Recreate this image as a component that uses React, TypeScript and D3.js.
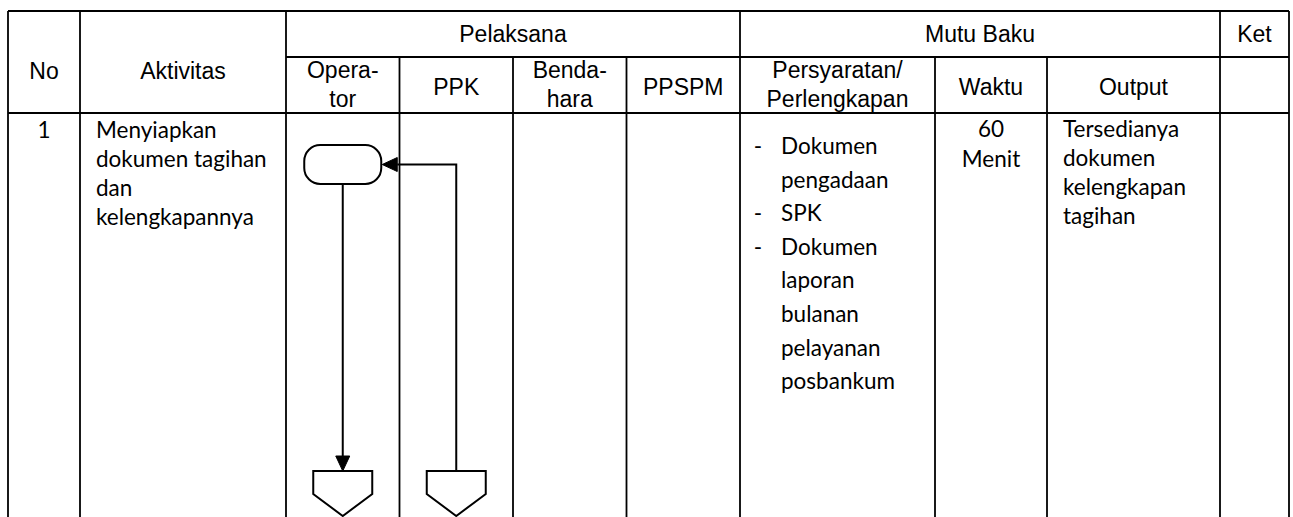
import React, { useEffect, useRef } from 'react';
import * as d3 from 'd3';

// header labels
const topHeaders = ['No', 'Aktivitas', 'Pelaksana', 'Mutu Baku', 'Ket'];
const actorKeys = ['operator', 'ppk', 'bendahara', 'ppspm'];
const actorLabels = [['Opera-', 'tor'], ['PPK'], ['Benda-', 'hara'], ['PPSPM']];
const mutuLabels = [['Persyaratan/', 'Perlengkapan'], ['Waktu'], ['Output']];

// row content
const rowNumbers = ['1'];
const activityLines = ['Menyiapkan', 'dokumen tagihan', 'dan', 'kelengkapannya'];
const requirementItems = [['Dokumen', 'pengadaan'], ['SPK'], ['Dokumen', 'laporan', 'bulanan', 'pelayanan', 'posbankum']];
const durationLines = ['60', 'Menit'];
const outputLines = ['Tersedianya', 'dokumen', 'kelengkapan', 'tagihan'];

// flow: start in operator lane, return from ppk lane, off-page connectors
const startLane = 'operator';
const returnLane = 'ppk';
const connectorLanes = ['operator', 'ppk'];

const HEAD_FONT = '"Liberation Sans", Arial, sans-serif';
const BODY_FONT = 'Lato, "Open Sans", sans-serif';

const App = () => {
  const ref = useRef<SVGSVGElement | null>(null);

  useEffect(() => {
    const svg = d3.select(ref.current);
    svg.selectAll('*').remove();

    const W = 1293;
    const H = 517;
    const top = 11;
    const midHead = 57;
    const headBottom = 113;
    const bottom = 530;

    // column edges
    const left = 8;
    const noRight = 80;
    const actRight = 286;
    const actorRight = 740;
    const reqRight = 935;
    const timeRight = 1047;
    const outRight = 1220;
    const right = 1289;

    const lane = d3.scaleBand<string>().domain(actorKeys).range([actRight, actorRight]);
    const laneMid = (k: string) => (lane(k) as number) + lane.bandwidth() / 2;

    const g = svg.append('g');
    const line = (x1: number, y1: number, x2: number, y2: number, w = 1.8) =>
      g.append('line')
        .attr('x1', x1).attr('y1', y1).attr('x2', x2).attr('y2', y2)
        .attr('stroke', '#000').attr('stroke-width', w);

    // outer borders and grid
    line(left, top, right, top);
    line(left, top, left, bottom);
    line(right, top, right, bottom);
    line(actRight, midHead, right, midHead);
    line(left, headBottom, right, headBottom);
    const fullCols = [noRight, actRight, actorRight, outRight];
    fullCols.forEach((x) => line(x, top, x, bottom));
    actorKeys.slice(1).forEach((k) => line(lane(k) as number, midHead, lane(k) as number, bottom));
    [reqRight, timeRight].forEach((x) => line(x, midHead, x, bottom));

    const text = (x: number, y: number, s: string, font: string, size: number, anchor = 'middle') =>
      g.append('text')
        .attr('x', x).attr('y', y)
        .attr('text-anchor', anchor)
        .style('font-family', font)
        .style('font-size', `${size}px`)
        .attr('fill', '#000')
        .text(s);

    const HS = 23;
    // top header row
    const topCenters = [
      { x: (left + noRight) / 2, y: 79 },
      { x: (noRight + actRight) / 2, y: 79 },
      { x: (actRight + actorRight) / 2, y: 42 },
      { x: (actorRight + outRight) / 2, y: 42 },
      { x: (outRight + right) / 2, y: 42 },
    ];
    topHeaders.forEach((h, i) => text(topCenters[i].x, topCenters[i].y, h, HEAD_FONT, HS));

    const subHeader = (cx: number, lines: string[]) => {
      if (lines.length === 1) text(cx, 95, lines[0], HEAD_FONT, HS);
      else lines.forEach((s, i) => text(cx, 78 + i * 29, s, HEAD_FONT, HS));
    };
    actorKeys.forEach((k, i) => subHeader(laneMid(k), actorLabels[i]));
    const mutuCenters = [(actorRight + reqRight) / 2, (reqRight + timeRight) / 2, (timeRight + outRight) / 2];
    mutuLabels.forEach((l, i) => subHeader(mutuCenters[i], l));

    // body text
    const BS = 22.5;
    rowNumbers.forEach((n) => text((left + noRight) / 2, 138, n, BODY_FONT, BS));
    activityLines.forEach((s, i) => text(96, 138 + i * 29, s, BODY_FONT, BS, 'start'));
    let li = 0;
    requirementItems.forEach((item) => {
      item.forEach((s, j) => {
        const y = 154 + li * 33.6;
        if (j === 0) text(758, y, '-', BODY_FONT, BS);
        text(781, y, s, BODY_FONT, BS, 'start');
        li += 1;
      });
    });
    durationLines.forEach((s, i) => text((reqRight + timeRight) / 2, 137 + i * 30, s, BODY_FONT, BS));
    outputLines.forEach((s, i) => text(1063, 137 + i * 29, s, BODY_FONT, BS, 'start'));

    // flowchart
    const fg = svg.append('g').attr('fill', 'none').attr('stroke', '#000').attr('stroke-width', 2);
    const termW = 77;
    const termH = 39;
    const termTop = 145;
    const sx = laneMid(startLane);
    fg.append('rect')
      .attr('x', sx - termW / 2).attr('y', termTop)
      .attr('width', termW).attr('height', termH)
      .attr('rx', 16).attr('ry', 16)
      .attr('fill', '#fff');

    const connTop = 471;
    const connShoulder = 494;
    const connTip = 516;
    const connW = 59;
    const arrowLen = 15;
    const arrowHalf = 7;

    // down line operator
    fg.append('line')
      .attr('x1', sx).attr('y1', termTop + termH)
      .attr('x2', sx).attr('y2', connTop - arrowLen);
    fg.append('path')
      .attr('d', `M${sx - arrowHalf},${connTop - arrowLen}L${sx + arrowHalf},${connTop - arrowLen}L${sx},${connTop}Z`)
      .attr('fill', '#000').attr('stroke-width', 1);

    // return line from ppk
    const rx = laneMid(returnLane);
    const ry = termTop + termH / 2;
    const tipX = sx + termW / 2 + 1;
    fg.append('path')
      .attr('d', `M${rx},${connTop}L${rx},${ry}L${tipX + arrowLen},${ry}`);
    fg.append('path')
      .attr('d', `M${tipX + arrowLen},${ry - arrowHalf}L${tipX + arrowLen},${ry + arrowHalf}L${tipX},${ry}Z`)
      .attr('fill', '#000').attr('stroke-width', 1);

    // off-page connectors
    connectorLanes.forEach((k) => {
      const cx = laneMid(k);
      fg.append('path')
        .attr('d', `M${cx - connW / 2},${connTop}L${cx + connW / 2},${connTop}L${cx + connW / 2},${connShoulder}L${cx},${connTip}L${cx - connW / 2},${connShoulder}Z`)
        .attr('fill', '#fff');
    });

    svg.attr('width', W).attr('height', H);
  }, []);

  return (
    <svg ref={ref} width={1293} height={517} style={{ position: 'absolute', left: 0, top: 0, background: '#fff' }} />
  );
};

export default App;
